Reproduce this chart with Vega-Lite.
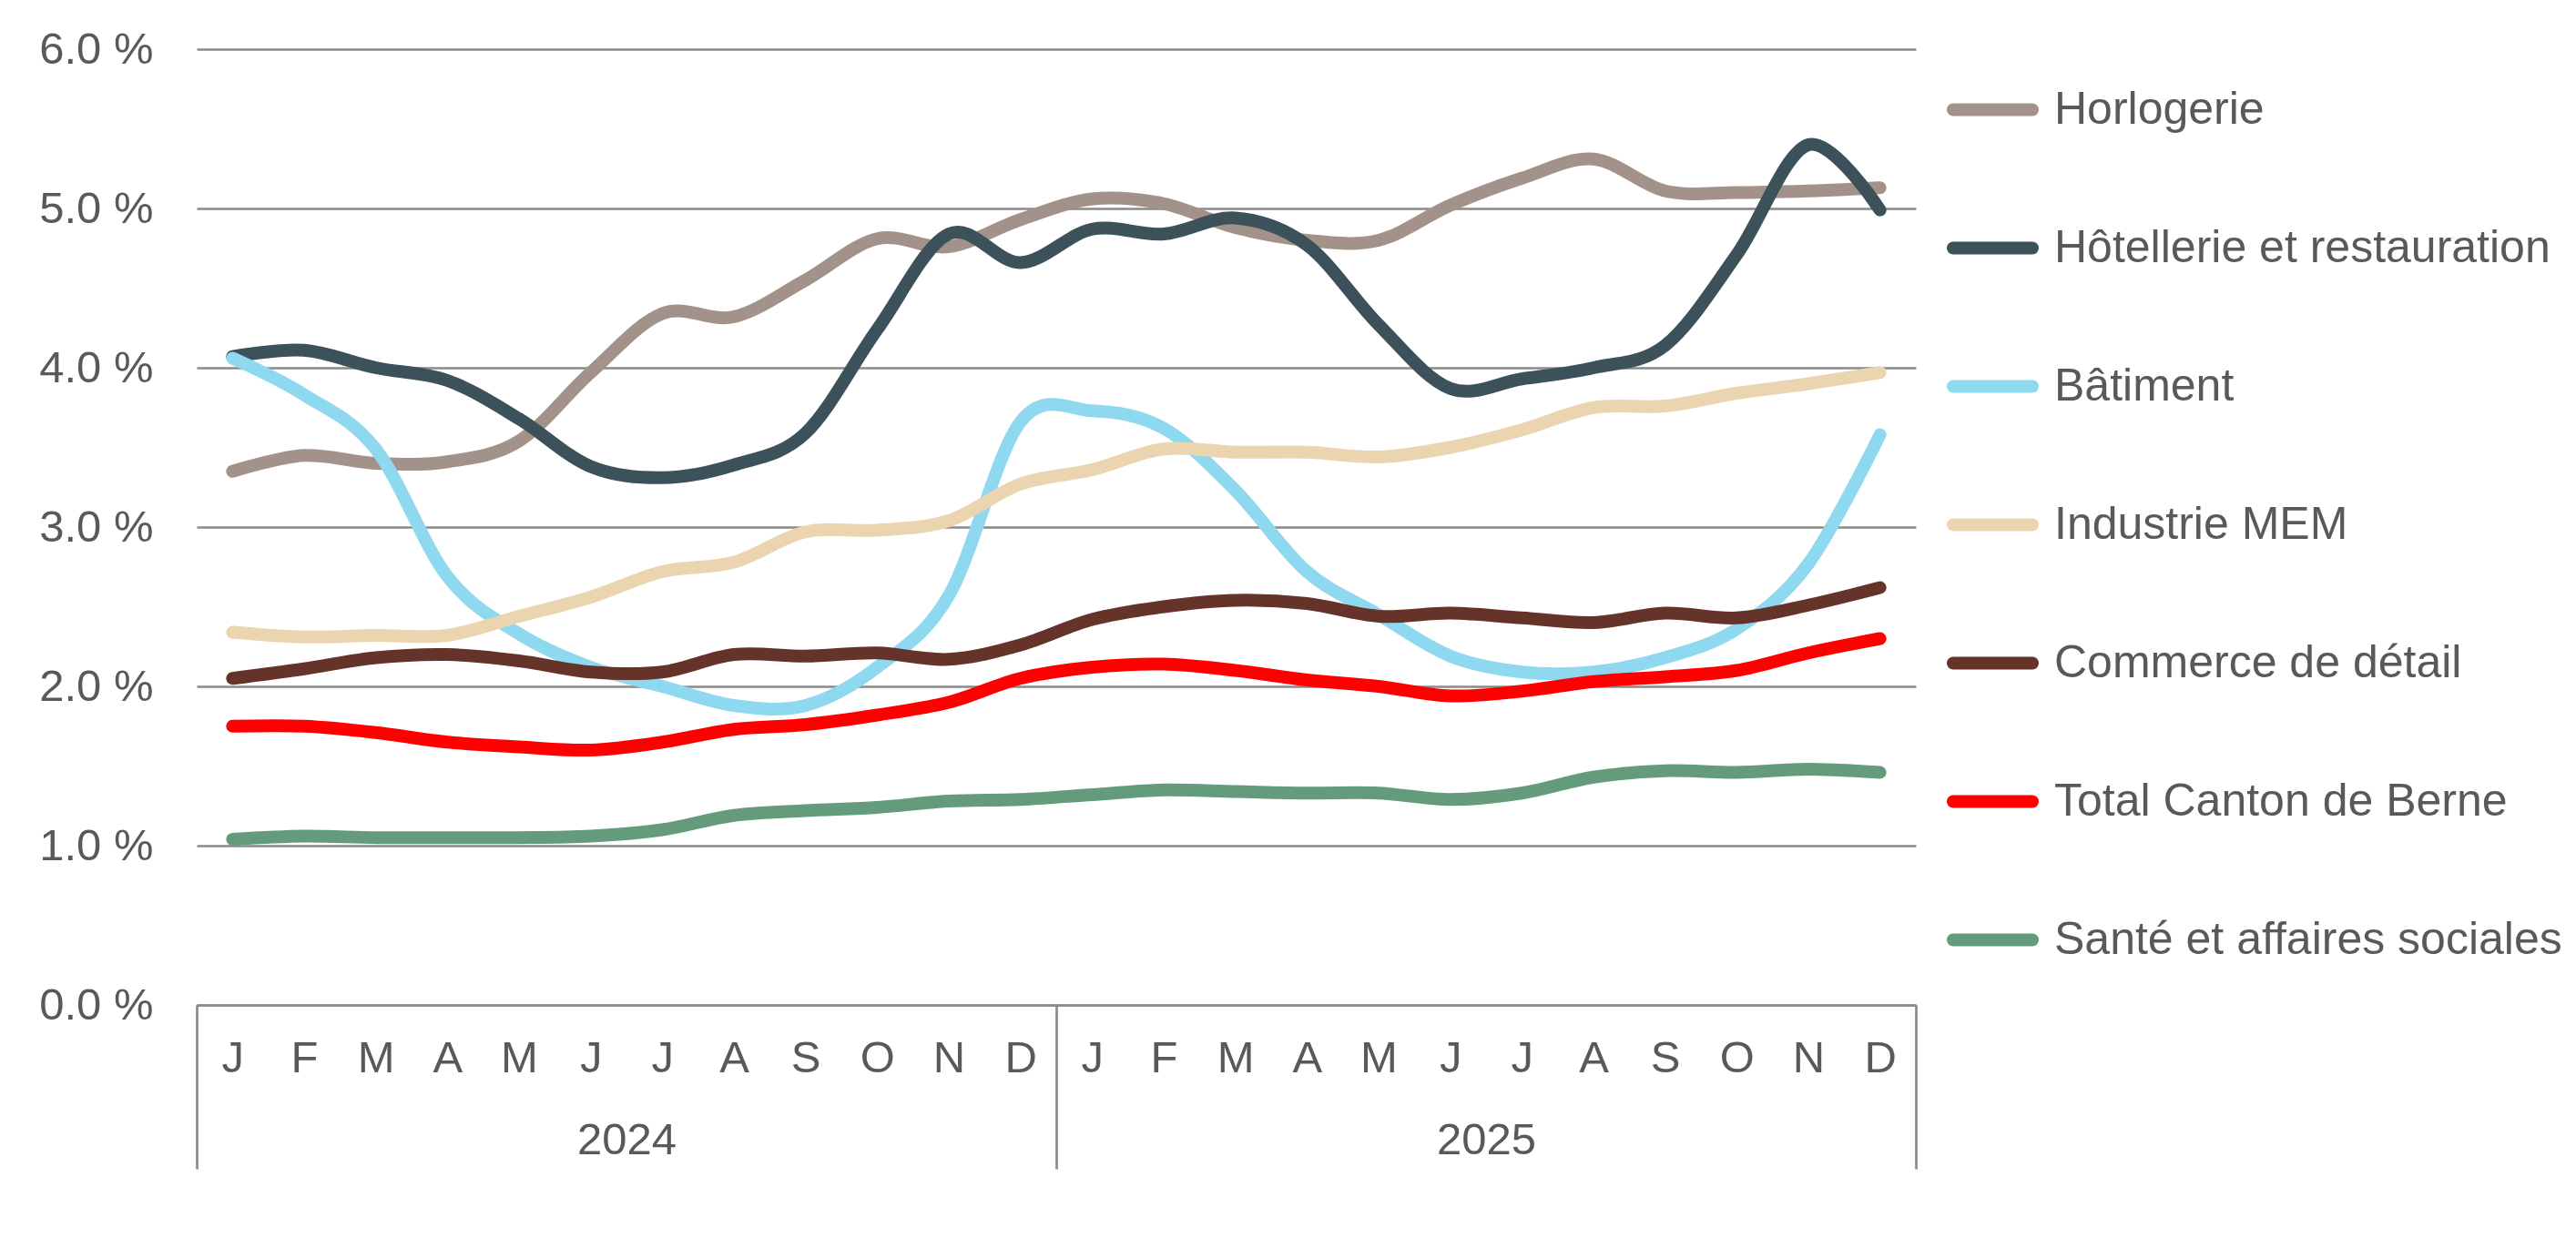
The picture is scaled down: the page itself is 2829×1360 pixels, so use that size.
{
  "$schema": "https://vega.github.io/schema/vega-lite/v6.json",
  "width": 1888,
  "height": 1050,
  "autosize": {"type": "none"},
  "padding": {"left": 216, "top": 54, "right": 725, "bottom": 256},
  "background": "white",
  "config": {"view": {"stroke": null}, "font": "Liberation Sans"},
  "resolve": {"scale": {"x": "independent"}},
  "layer": [
    {
      "data": {"values": [
        {"s":"Horlogerie","p":"2024-01","v":3.35},{"s":"Horlogerie","p":"2024-02","v":3.45},{"s":"Horlogerie","p":"2024-03","v":3.40},{"s":"Horlogerie","p":"2024-04","v":3.41},{"s":"Horlogerie","p":"2024-05","v":3.54},{"s":"Horlogerie","p":"2024-06","v":3.97},{"s":"Horlogerie","p":"2024-07","v":4.34},{"s":"Horlogerie","p":"2024-08","v":4.32},{"s":"Horlogerie","p":"2024-09","v":4.55},{"s":"Horlogerie","p":"2024-10","v":4.81},{"s":"Horlogerie","p":"2024-11","v":4.76},{"s":"Horlogerie","p":"2024-12","v":4.93},
        {"s":"Horlogerie","p":"2025-01","v":5.06},{"s":"Horlogerie","p":"2025-02","v":5.03},{"s":"Horlogerie","p":"2025-03","v":4.88},{"s":"Horlogerie","p":"2025-04","v":4.80},{"s":"Horlogerie","p":"2025-05","v":4.80},{"s":"Horlogerie","p":"2025-06","v":5.02},{"s":"Horlogerie","p":"2025-07","v":5.19},{"s":"Horlogerie","p":"2025-08","v":5.31},{"s":"Horlogerie","p":"2025-09","v":5.11},{"s":"Horlogerie","p":"2025-10","v":5.10},{"s":"Horlogerie","p":"2025-11","v":5.11},{"s":"Horlogerie","p":"2025-12","v":5.13},
        {"s":"Hôtellerie et restauration","p":"2024-01","v":4.07},{"s":"Hôtellerie et restauration","p":"2024-02","v":4.11},{"s":"Hôtellerie et restauration","p":"2024-03","v":4.00},{"s":"Hôtellerie et restauration","p":"2024-04","v":3.92},{"s":"Hôtellerie et restauration","p":"2024-05","v":3.68},{"s":"Hôtellerie et restauration","p":"2024-06","v":3.38},{"s":"Hôtellerie et restauration","p":"2024-07","v":3.31},{"s":"Hôtellerie et restauration","p":"2024-08","v":3.39},{"s":"Hôtellerie et restauration","p":"2024-09","v":3.59},{"s":"Hôtellerie et restauration","p":"2024-10","v":4.24},{"s":"Hôtellerie et restauration","p":"2024-11","v":4.84},{"s":"Hôtellerie et restauration","p":"2024-12","v":4.66},
        {"s":"Hôtellerie et restauration","p":"2025-01","v":4.87},{"s":"Hôtellerie et restauration","p":"2025-02","v":4.84},{"s":"Hôtellerie et restauration","p":"2025-03","v":4.94},{"s":"Hôtellerie et restauration","p":"2025-04","v":4.77},{"s":"Hôtellerie et restauration","p":"2025-05","v":4.27},{"s":"Hôtellerie et restauration","p":"2025-06","v":3.87},{"s":"Hôtellerie et restauration","p":"2025-07","v":3.93},{"s":"Hôtellerie et restauration","p":"2025-08","v":4.00},{"s":"Hôtellerie et restauration","p":"2025-09","v":4.14},{"s":"Hôtellerie et restauration","p":"2025-10","v":4.71},{"s":"Hôtellerie et restauration","p":"2025-11","v":5.40},{"s":"Hôtellerie et restauration","p":"2025-12","v":4.99},
        {"s":"Bâtiment","p":"2024-01","v":4.06},{"s":"Bâtiment","p":"2024-02","v":3.83},{"s":"Bâtiment","p":"2024-03","v":3.49},{"s":"Bâtiment","p":"2024-04","v":2.69},{"s":"Bâtiment","p":"2024-05","v":2.33},{"s":"Bâtiment","p":"2024-06","v":2.12},{"s":"Bâtiment","p":"2024-07","v":2.00},{"s":"Bâtiment","p":"2024-08","v":1.88},{"s":"Bâtiment","p":"2024-09","v":1.88},{"s":"Bâtiment","p":"2024-10","v":2.12},{"s":"Bâtiment","p":"2024-11","v":2.57},{"s":"Bâtiment","p":"2024-12","v":3.66},
        {"s":"Bâtiment","p":"2025-01","v":3.73},{"s":"Bâtiment","p":"2025-02","v":3.62},{"s":"Bâtiment","p":"2025-03","v":3.23},{"s":"Bâtiment","p":"2025-04","v":2.72},{"s":"Bâtiment","p":"2025-05","v":2.45},{"s":"Bâtiment","p":"2025-06","v":2.19},{"s":"Bâtiment","p":"2025-07","v":2.09},{"s":"Bâtiment","p":"2025-08","v":2.09},{"s":"Bâtiment","p":"2025-09","v":2.18},{"s":"Bâtiment","p":"2025-10","v":2.36},{"s":"Bâtiment","p":"2025-11","v":2.77},{"s":"Bâtiment","p":"2025-12","v":3.58},
        {"s":"Industrie MEM","p":"2024-01","v":2.34},{"s":"Industrie MEM","p":"2024-02","v":2.31},{"s":"Industrie MEM","p":"2024-03","v":2.32},{"s":"Industrie MEM","p":"2024-04","v":2.32},{"s":"Industrie MEM","p":"2024-05","v":2.44},{"s":"Industrie MEM","p":"2024-06","v":2.56},{"s":"Industrie MEM","p":"2024-07","v":2.72},{"s":"Industrie MEM","p":"2024-08","v":2.78},{"s":"Industrie MEM","p":"2024-09","v":2.97},{"s":"Industrie MEM","p":"2024-10","v":2.98},{"s":"Industrie MEM","p":"2024-11","v":3.04},{"s":"Industrie MEM","p":"2024-12","v":3.27},
        {"s":"Industrie MEM","p":"2025-01","v":3.36},{"s":"Industrie MEM","p":"2025-02","v":3.49},{"s":"Industrie MEM","p":"2025-03","v":3.47},{"s":"Industrie MEM","p":"2025-04","v":3.47},{"s":"Industrie MEM","p":"2025-05","v":3.44},{"s":"Industrie MEM","p":"2025-06","v":3.50},{"s":"Industrie MEM","p":"2025-07","v":3.61},{"s":"Industrie MEM","p":"2025-08","v":3.75},{"s":"Industrie MEM","p":"2025-09","v":3.76},{"s":"Industrie MEM","p":"2025-10","v":3.84},{"s":"Industrie MEM","p":"2025-11","v":3.90},{"s":"Industrie MEM","p":"2025-12","v":3.97},
        {"s":"Commerce de détail","p":"2024-01","v":2.05},{"s":"Commerce de détail","p":"2024-02","v":2.11},{"s":"Commerce de détail","p":"2024-03","v":2.18},{"s":"Commerce de détail","p":"2024-04","v":2.20},{"s":"Commerce de détail","p":"2024-05","v":2.16},{"s":"Commerce de détail","p":"2024-06","v":2.09},{"s":"Commerce de détail","p":"2024-07","v":2.09},{"s":"Commerce de détail","p":"2024-08","v":2.20},{"s":"Commerce de détail","p":"2024-09","v":2.19},{"s":"Commerce de détail","p":"2024-10","v":2.21},{"s":"Commerce de détail","p":"2024-11","v":2.17},{"s":"Commerce de détail","p":"2024-12","v":2.26},
        {"s":"Commerce de détail","p":"2025-01","v":2.42},{"s":"Commerce de détail","p":"2025-02","v":2.50},{"s":"Commerce de détail","p":"2025-03","v":2.54},{"s":"Commerce de détail","p":"2025-04","v":2.52},{"s":"Commerce de détail","p":"2025-05","v":2.44},{"s":"Commerce de détail","p":"2025-06","v":2.46},{"s":"Commerce de détail","p":"2025-07","v":2.43},{"s":"Commerce de détail","p":"2025-08","v":2.40},{"s":"Commerce de détail","p":"2025-09","v":2.46},{"s":"Commerce de détail","p":"2025-10","v":2.43},{"s":"Commerce de détail","p":"2025-11","v":2.51},{"s":"Commerce de détail","p":"2025-12","v":2.62},
        {"s":"Total Canton de Berne","p":"2024-01","v":1.75},{"s":"Total Canton de Berne","p":"2024-02","v":1.75},{"s":"Total Canton de Berne","p":"2024-03","v":1.71},{"s":"Total Canton de Berne","p":"2024-04","v":1.65},{"s":"Total Canton de Berne","p":"2024-05","v":1.62},{"s":"Total Canton de Berne","p":"2024-06","v":1.60},{"s":"Total Canton de Berne","p":"2024-07","v":1.65},{"s":"Total Canton de Berne","p":"2024-08","v":1.73},{"s":"Total Canton de Berne","p":"2024-09","v":1.76},{"s":"Total Canton de Berne","p":"2024-10","v":1.82},{"s":"Total Canton de Berne","p":"2024-11","v":1.90},{"s":"Total Canton de Berne","p":"2024-12","v":2.05},
        {"s":"Total Canton de Berne","p":"2025-01","v":2.12},{"s":"Total Canton de Berne","p":"2025-02","v":2.14},{"s":"Total Canton de Berne","p":"2025-03","v":2.10},{"s":"Total Canton de Berne","p":"2025-04","v":2.04},{"s":"Total Canton de Berne","p":"2025-05","v":2.00},{"s":"Total Canton de Berne","p":"2025-06","v":1.94},{"s":"Total Canton de Berne","p":"2025-07","v":1.97},{"s":"Total Canton de Berne","p":"2025-08","v":2.03},{"s":"Total Canton de Berne","p":"2025-09","v":2.06},{"s":"Total Canton de Berne","p":"2025-10","v":2.10},{"s":"Total Canton de Berne","p":"2025-11","v":2.21},{"s":"Total Canton de Berne","p":"2025-12","v":2.30},
        {"s":"Santé et affaires sociales","p":"2024-01","v":1.04},{"s":"Santé et affaires sociales","p":"2024-02","v":1.06},{"s":"Santé et affaires sociales","p":"2024-03","v":1.05},{"s":"Santé et affaires sociales","p":"2024-04","v":1.05},{"s":"Santé et affaires sociales","p":"2024-05","v":1.05},{"s":"Santé et affaires sociales","p":"2024-06","v":1.06},{"s":"Santé et affaires sociales","p":"2024-07","v":1.10},{"s":"Santé et affaires sociales","p":"2024-08","v":1.19},{"s":"Santé et affaires sociales","p":"2024-09","v":1.22},{"s":"Santé et affaires sociales","p":"2024-10","v":1.24},{"s":"Santé et affaires sociales","p":"2024-11","v":1.28},{"s":"Santé et affaires sociales","p":"2024-12","v":1.29},
        {"s":"Santé et affaires sociales","p":"2025-01","v":1.32},{"s":"Santé et affaires sociales","p":"2025-02","v":1.35},{"s":"Santé et affaires sociales","p":"2025-03","v":1.34},{"s":"Santé et affaires sociales","p":"2025-04","v":1.33},{"s":"Santé et affaires sociales","p":"2025-05","v":1.33},{"s":"Santé et affaires sociales","p":"2025-06","v":1.29},{"s":"Santé et affaires sociales","p":"2025-07","v":1.33},{"s":"Santé et affaires sociales","p":"2025-08","v":1.43},{"s":"Santé et affaires sociales","p":"2025-09","v":1.47},{"s":"Santé et affaires sociales","p":"2025-10","v":1.46},{"s":"Santé et affaires sociales","p":"2025-11","v":1.48},{"s":"Santé et affaires sociales","p":"2025-12","v":1.46}
      ]},
      "mark": {"type": "line", "interpolate": "cardinal", "strokeWidth": 14, "strokeCap": "round", "strokeJoin": "round"},
      "encoding": {
        "x": {
          "field": "p", "type": "ordinal",
          "scale": {"type": "point", "padding": 0.5},
          "axis": {
            "orient": "bottom", "title": null, "ticks": false, "grid": false,
            "domain": true, "domainColor": "#8a8a8a", "domainWidth": 2.7,
            "labelAngle": 0, "labelFontSize": 49, "labelColor": "#595959",
            "labelBaseline": "middle", "labelPadding": 58,
            "labelExpr": "['J','F','M','A','M','J','J','A','S','O','N','D'][toNumber(substring(datum.value,5,7))-1]"
          }
        },
        "y": {
          "field": "v", "type": "quantitative",
          "scale": {"domain": [0, 6], "nice": false, "zero": true},
          "axis": {
            "title": null, "values": [0,1,2,3,4,5,6], "domain": false, "ticks": false,
            "grid": true, "gridColor": "#8a8a8a", "gridWidth": 2.7,
            "labelFontSize": 49, "labelColor": "#595959", "labelPadding": 48,
            "labelExpr": "format(datum.value, '.1f') + ' %'"
          }
        },
        "color": {
          "field": "s", "type": "nominal",
          "scale": {
            "domain": ["Horlogerie","Hôtellerie et restauration","Bâtiment","Industrie MEM","Commerce de détail","Total Canton de Berne","Santé et affaires sociales"],
            "range": ["#A3928A","#3C515A","#8ED8F0","#EBD4B0","#66332A","#FF0000","#649B7B"]
          },
          "legend": {
            "orient": "none", "legendX": 1922, "legendY": 16, "title": null, "padding": 0,
            "symbolType": "stroke", "symbolSize": 7569, "symbolStrokeWidth": 14,
            "labelFontSize": 50, "labelColor": "#595959", "labelOffset": 17, "labelLimit": 800,
            "rowPadding": 73,
            "encode": {"symbols": {"update": {"strokeCap": {"value": "round"}}}}
          }
        }
      }
    },
    {
      "data": {"values": [{"year": "2024"}, {"year": "2025"}]},
      "mark": {"type": "point", "opacity": 0},
      "encoding": {
        "x": {
          "field": "year", "type": "ordinal",
          "scale": {"type": "band", "paddingInner": 0, "paddingOuter": 0},
          "axis": {
            "orient": "bottom", "title": null, "domain": false, "grid": false,
            "ticks": true, "tickBand": "extent", "tickSize": 180, "tickColor": "#8a8a8a", "tickWidth": 2.7,
            "labelAngle": 0, "labelFontSize": 49, "labelColor": "#595959",
            "labelBaseline": "middle", "labelPadding": -32
          }
        }
      }
    }
  ]
}
